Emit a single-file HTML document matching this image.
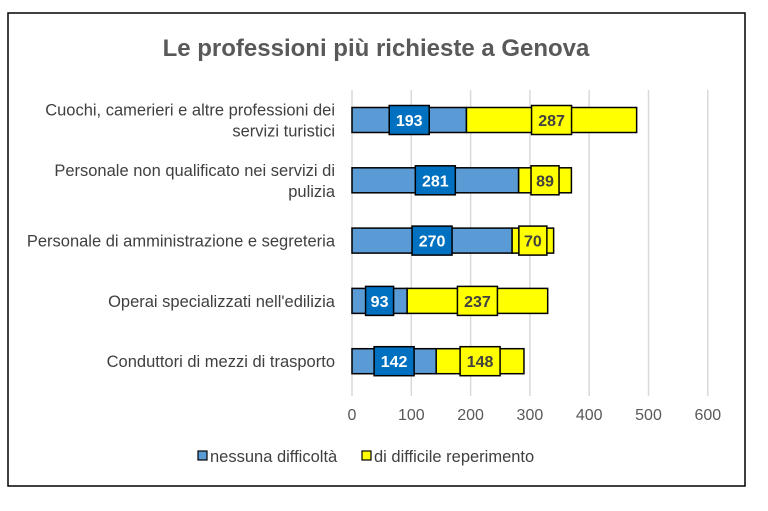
<!DOCTYPE html>
<html><head><meta charset="utf-8"><style>
body{margin:0;background:#fff;font-family:"Liberation Sans",sans-serif;}
</style></head><body>
<svg width="768" height="506" xmlns="http://www.w3.org/2000/svg" id="chart">
<rect x="8" y="13" width="737" height="473" fill="#fff" stroke="#000" stroke-width="1.5"/>
<text x="376" y="56" text-anchor="middle" font-size="24" font-weight="bold" fill="#595959">Le professioni più richieste a Genova</text>
<g id="grid"></g><g id="bars"></g><g id="cats"></g><g id="ticks"></g>
<g>
<rect x="198" y="451" width="9" height="9" fill="#5b9bd5" stroke="#000" stroke-width="1.2"/>
<text x="210" y="462" font-size="16.5" fill="#404040">nessuna difficoltà</text>
<rect x="362" y="451" width="9" height="9" fill="#ffff00" stroke="#000" stroke-width="1.2"/>
<text x="374" y="462" font-size="16.5" fill="#404040">di difficile reperimento</text>
</g>
</svg>
<script>
const categories=[["Cuochi, camerieri e altre professioni dei","servizi turistici"],["Personale non qualificato nei servizi di","pulizia"],["Personale di amministrazione e segreteria"],["Operai specializzati nell'edilizia"],["Conduttori di mezzi di trasporto"]];
const nessuna=[193,281,270,93,142];
const difficile=[287,89,70,237,148];
const tickLabels=[0,100,200,300,400,500,600];
const NS="http://www.w3.org/2000/svg";
const x=v=>352+v*0.593;
const y=i=>120+i*60.3;
function mk(t,a,p){const e=document.createElementNS(NS,t);for(const k in a)e.setAttribute(k,a[k]);document.getElementById(p).appendChild(e);return e;}
tickLabels.forEach(t=>{
 const l=mk('line',{x1:x(t),x2:x(t),y1:90,y2:396,stroke:'#d9d9d9','stroke-width':1.5},'grid');
 
 
 const tx=mk('text',{x:x(t),y:420,'text-anchor':'middle','font-size':16,fill:'#595959'},'ticks');
 tx.textContent=t;
 
 
});
categories.forEach((c,i)=>{
 const cy=y(i);
 const lines=c.length;
 c.forEach((s,j)=>{
  const t=mk('text',{x:335,y:cy+6+(j-(lines-1)/2)*21,'text-anchor':'end','font-size':16.5,fill:'#404040'},'cats');
  t.textContent=s;
  
  
 });
 const segs=[[0,nessuna[i],'#5b9bd5','#0070c0','#fff','nessuna'],[nessuna[i],nessuna[i]+difficile[i],'#ffff00','#ffff00','#404040','difficile']];
 segs.forEach(s=>{
  const r=mk('rect',{x:x(s[0]),y:cy-12.5,width:x(s[1])-x(s[0]),height:25,fill:s[2],stroke:'#000','stroke-width':1.5},'bars');
  
  
  const v=s[1]-s[0];const w=String(v).length>2?40:28;const mx=(x(s[0])+x(s[1]))/2;
  const b=mk('rect',{x:mx-w/2,y:cy-14.5,width:w,height:29,fill:s[3],stroke:'#000','stroke-width':1.5},'bars');
  
  
  const t=mk('text',{x:mx,y:cy+6,'text-anchor':'middle','font-size':16,'font-weight':'bold',fill:s[4]},'bars');
  t.textContent=v;
  
  
 });
});
</script>
</body></html>
